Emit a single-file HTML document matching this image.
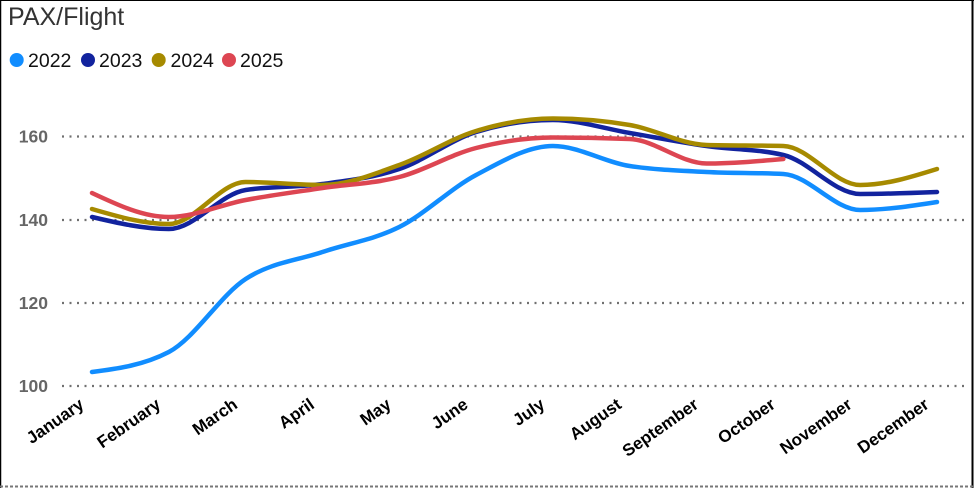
<!DOCTYPE html>
<html>
<head>
<meta charset="utf-8">
<style>
  html, body { margin:0; padding:0; background:#fff; }
  body { width:974px; height:488px; overflow:hidden; }
  svg { display:block; }
</style>
</head>
<body>
<svg id="chart" width="974" height="488" viewBox="0 0 974 488" xmlns="http://www.w3.org/2000/svg">
  <rect x="0" y="0" width="974" height="488" fill="#fff"/>
  <!-- border -->
  <line x1="0" y1="0.5" x2="974" y2="0.5" stroke="#000" stroke-width="1"/>
  <line x1="0.5" y1="0" x2="0.5" y2="488" stroke="#000" stroke-width="1.5"/>
  <line x1="972.5" y1="0" x2="972.5" y2="488" stroke="#000" stroke-width="2"/>
  <line x1="0" y1="486.5" x2="974" y2="486.5" stroke="#777" stroke-width="2" stroke-dasharray="3 2"/>

  <text x="8" y="25" font-family="Liberation Sans, sans-serif" font-size="25" fill="#333333">PAX/Flight</text>

  <!-- legend -->
  <g font-family="Liberation Sans, sans-serif" font-size="19.5" fill="#111">
    <circle cx="16.7" cy="60" r="7" fill="#118DFF"/>
    <text x="28" y="67">2022</text>
    <circle cx="88" cy="60" r="7" fill="#12239E"/>
    <text x="99" y="67">2023</text>
    <circle cx="158.7" cy="60" r="7" fill="#A68A00"/>
    <text x="170.5" y="67">2024</text>
    <circle cx="229" cy="60" r="7" fill="#DD4652"/>
    <text x="240" y="67">2025</text>
  </g>

  <!-- gridlines -->
  <g stroke="#707070" stroke-width="2.2" stroke-dasharray="2 5.5" stroke-linecap="butt">
    <line x1="62" y1="136.5" x2="968" y2="136.5"/>
    <line x1="62" y1="220" x2="968" y2="220"/>
    <line x1="62" y1="303" x2="968" y2="303"/>
    <line x1="62" y1="386" x2="968" y2="386"/>
  </g>
  <g font-family="Liberation Sans, sans-serif" font-size="17.5" font-weight="bold" fill="#666666" text-anchor="end">
    <text x="48" y="142.5">160</text>
    <text x="48" y="226">140</text>
    <text x="48" y="309">120</text>
    <text x="48" y="392">100</text>
  </g>

  <g font-family="Liberation Sans, sans-serif" font-size="17" font-weight="bold" fill="#000" text-anchor="end">
    <text x="85" y="407" transform="rotate(-35 85 407)">January</text>
    <text x="161.8" y="407" transform="rotate(-35 161.8 407)">February</text>
    <text x="238.6" y="407" transform="rotate(-35 238.6 407)">March</text>
    <text x="315.5" y="407" transform="rotate(-35 315.5 407)">April</text>
    <text x="392.3" y="407" transform="rotate(-35 392.3 407)">May</text>
    <text x="469.1" y="407" transform="rotate(-35 469.1 407)">June</text>
    <text x="545.9" y="407" transform="rotate(-35 545.9 407)">July</text>
    <text x="622.7" y="407" transform="rotate(-35 622.7 407)">August</text>
    <text x="699.5" y="407" transform="rotate(-35 699.5 407)">September</text>
    <text x="776.4" y="407" transform="rotate(-35 776.4 407)">October</text>
    <text x="853.2" y="407" transform="rotate(-35 853.2 407)">November</text>
    <text x="930" y="407" transform="rotate(-35 930 407)">December</text>
  </g>

  <g id="series" fill="none" stroke-width="4.5" stroke-linecap="round" stroke-linejoin="round"></g>
</svg>
<script>
(function(){
  var NS = "http://www.w3.org/2000/svg";
  var xs = [];
  for (var i=0;i<12;i++) xs.push(92 + i*(937-92)/11);
  var data = [
    {c:"#118DFF", y:[372,352,279,252,227,175,146,166,172,174,210,202]},
    {c:"#12239E", y:[217,229,190,184,169,132,120,133,146,155,194,192]},
    {c:"#A68A00", y:[209,224,182,185,165,131,118.5,125,145,146,185,169]},
    {c:"#DD4652", y:[193,217,200,188,177,148,137.5,139,163.5,159]}
  ];
  function monotone(px, py){
    var n = px.length, d=[], m=[];
    for (var i=0;i<n-1;i++) d.push((py[i+1]-py[i])/(px[i+1]-px[i]));
    for (var i=1;i<n-1;i++){
      if (d[i-1]*d[i]<=0) m[i]=0;
      else {
        var h0=px[i]-px[i-1], h1=px[i+1]-px[i];
        var p=(d[i-1]*h1+d[i]*h0)/(h0+h1);
        var sg = d[i-1]>0?1:-1;
        m[i] = sg*Math.min(Math.abs(p), 2*Math.min(Math.abs(d[i-1]),Math.abs(d[i])));
      }
    }
    var h=px[1]-px[0]; m[0] = (3*(py[1]-py[0])/h - m[1])/2;
    var h2=px[n-1]-px[n-2]; m[n-1] = (3*(py[n-1]-py[n-2])/h2 - m[n-2])/2;
    var s = "M"+px[0]+","+py[0];
    for (var i=0;i<n-1;i++){
      var dx=(px[i+1]-px[i])/3;
      s += " C"+(px[i]+dx)+","+(py[i]+m[i]*dx)+" "+(px[i+1]-dx)+","+(py[i+1]-m[i+1]*dx)+" "+px[i+1]+","+py[i+1];
    }
    return s;
  }
  var g = document.getElementById("series");
  data.forEach(function(s){
    var p = document.createElementNS(NS,"path");
    p.setAttribute("d", monotone(xs.slice(0,s.y.length), s.y));
    p.setAttribute("stroke", s.c);
    g.appendChild(p);
  });
})();
</script>
</body>
</html>
